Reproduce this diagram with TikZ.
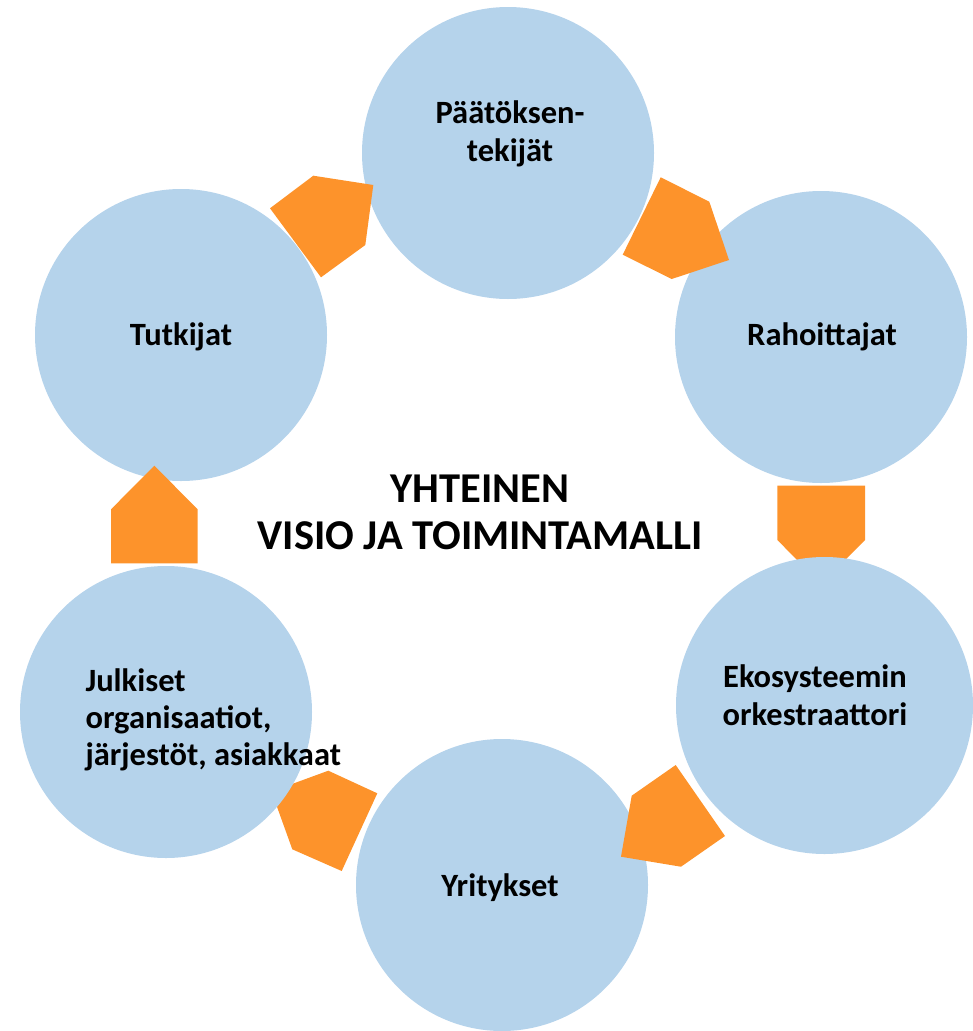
\documentclass[tikz,border=0pt]{standalone}
\usepackage{fontspec}
\setmainfont{Carlito}
\definecolor{cblue}{RGB}{181,211,235}
\definecolor{corange}{RGB}{253,147,43}
\begin{document}
\begin{tikzpicture}[x=1pt,y=-1pt,
  circ/.style={circle,fill=cblue,inner sep=0pt},
  lbl/.style={font=\bfseries\fontsize{32.5}{38}\selectfont,align=center,text=black},
  pent/.style={fill=corange}]
\useasboundingbox (0,0) rectangle (973,1031);
% circles below the arrows
\node[circ,minimum size=292pt] (p) at (508,153) {};
\node[circ,minimum size=292pt] (r) at (821,337) {};
\node[circ,minimum size=292pt] (y) at (502,885) {};
\node[circ,minimum size=292pt] (t) at (181,335) {};
% arrows (pentagons)
\fill[pent] (313.3,175.7) -- (373.3,185) -- (365.3,245) -- (321,277.3) -- (270,208.3) -- cycle;
\fill[pent] (660.7,177.3) -- (709.3,201.7) -- (729,260) -- (671.7,279) -- (622.7,254.7) -- cycle;
\fill[pent] (777.3,485.7) -- (865,485.7) -- (865,540) -- (821,584) -- (777.3,540) -- cycle;
\fill[pent] (675.7,765) -- (725,836) -- (681,866.7) -- (621,856.7) -- (631.7,795.7) -- cycle;
\fill[pent] (377.3,793.3) -- (341.7,871) -- (292.3,849.3) -- (271.5,791.5) -- (328.3,770.7) -- cycle;
\fill[pent] (154.3,465.7) -- (197.7,509.3) -- (197.7,563.3) -- (111,563.3) -- (111,509.3) -- cycle;
% circles above the arrows
\node[circ,minimum size=297pt] (e) at (824.5,705.5) {};
\node[circ,minimum size=292pt] (j) at (166,712) {};
% labels
\node[lbl] (pl) at (510,134) {Päätöksen-\\tekijät};
\node[lbl] (rl) at (822,337) {Rahoittajat};
\node[lbl] (el) at (815,695) {Ekosysteemin\\orkestraattori};
\node[lbl] (yl) at (500,888) {Yritykset};
\node[lbl] (tl) at (181,337) {Tutkijat};
\node[lbl,align=left,anchor=west,font=\bfseries\fontsize{32.5}{37}\selectfont] (jl) at (82,720) {Julkiset\\organisaatiot,\\järjestöt, asiakkaat};
\node[font=\bfseries\fontsize{42.5}{47}\selectfont,align=center] (title) at (480,512) {YHTEINEN\\VISIO JA TOIMINTAMALLI};
\end{tikzpicture}
\end{document}
